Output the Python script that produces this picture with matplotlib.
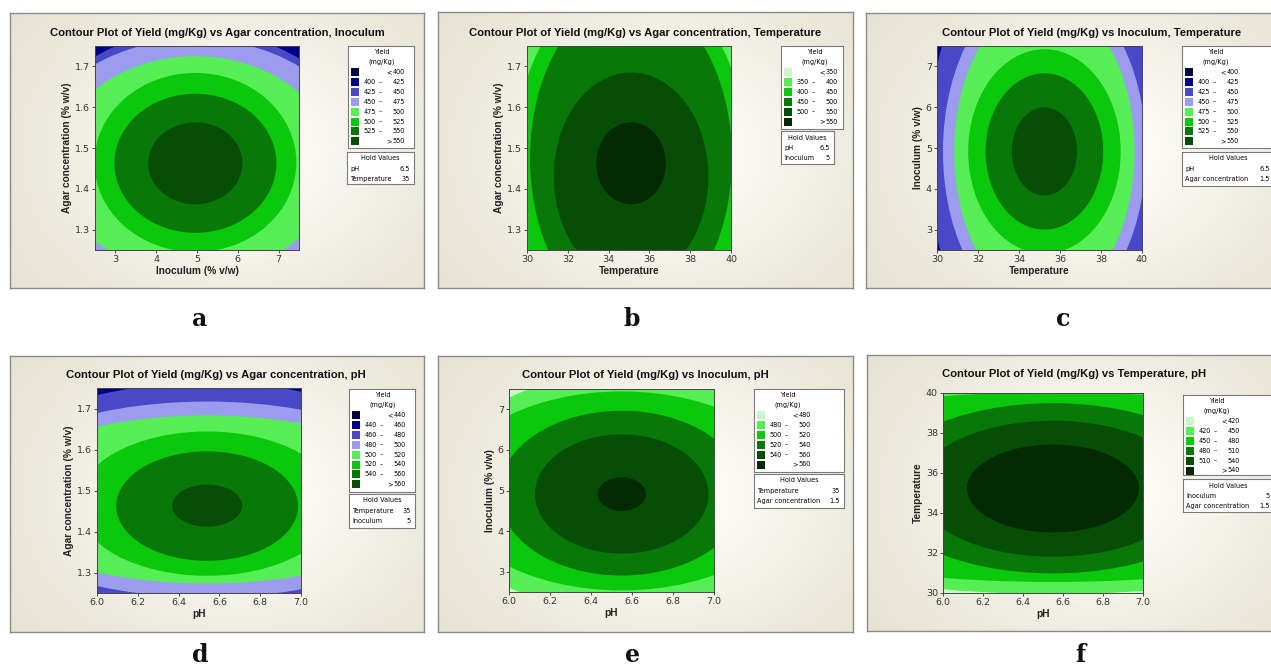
import numpy as np
import matplotlib
matplotlib.use("Agg")
import matplotlib.pyplot as plt
from matplotlib.patches import Ellipse, Rectangle
from matplotlib.colors import to_rgb
from matplotlib.ticker import FormatStrFormatter

OUTPUT_PATH = "out.png"
W, H = 1271, 667

plt.rcParams["font.family"] = "DejaVu Sans"

# ==========================================
# COLOURS (Minitab ramps)
# ==========================================
BLUE_GREEN = ["#07073f", "#000086", "#4848c8", "#9c9cee",
              "#55ee55", "#0cc80c", "#087808", "#064e06"]
GREENS = ["#c8f8c8", "#55ee55", "#0cc80c", "#087808", "#064e06", "#032a03"]

# ==========================================
# DATA - contour boundaries
# (one ellipse per level: centre x, centre y, half-widths)
# ==========================================
# a: Agar concentration vs Inoculum
A_LEVELS = [400, 425, 450, 475, 500, 525, 550]
A_CX = 4.96
A_CY = [1.4575, 1.4575, 1.4575, 1.4575, 1.4645, 1.4625, 1.4625]
A_RX = [4.50, 4.15, 4.08, 3.41, 2.475, 1.985, 1.155]
A_RY = [0.360, 0.331, 0.310, 0.2675, 0.2195, 0.1705, 0.1005]
A_HOLD = [("pH", "6.5"), ("Temperature", "35")]

# b: Agar concentration vs Temperature
B_LEVELS = [350, 400, 450, 500, 550]
B_CX = 35.1
B_CY = [1.45, 1.45, 1.475, 1.43, 1.4625]
B_RX = [6.5, 5.79, 4.95, 3.79, 1.71]
B_RY = [0.55, 0.466, 0.395, 0.255, 0.1005]
B_HOLD = [("pH", "6.5"), ("Inoculum", "5")]

# c: Inoculum vs Temperature
C_LEVELS = [400, 425, 450, 475, 500, 525, 550]
C_CX = 35.24
C_CY = [4.915, 4.915, 4.915, 4.915, 4.915, 4.915, 4.915]
C_RX = [6.0, 5.66, 4.95, 4.40, 3.72, 2.87, 1.59]
C_RY = [6.0, 5.51, 4.11, 3.69, 2.505, 1.915, 1.08]
C_HOLD = [("pH", "6.5"), ("Agar concentration", "1.5")]

# d: Agar concentration vs pH
D_LEVELS = [440, 460, 480, 500, 520, 540, 560]
D_CX = 6.54
D_CY = [1.478, 1.478, 1.478, 1.478, 1.468, 1.462, 1.463]
D_RX = [1.30, 1.20, 1.15, 1.085, 0.637, 0.446, 0.172]
D_RY = [0.300, 0.285, 0.239, 0.205, 0.176, 0.1335, 0.0514]
D_HOLD = [("Temperature", "35"), ("Inoculum", "5")]

# e: Inoculum vs pH
E_LEVELS = [480, 500, 520, 540, 560]
E_CX = 6.55
E_CY = [4.95, 4.99, 4.935, 4.915, 4.911]
E_RX = [0.90, 0.846, 0.600, 0.423, 0.118]
E_RY = [2.95, 2.45, 2.03, 1.468, 0.413]
E_HOLD = [("Temperature", "35"), ("Agar concentration", "1.5")]

# f: Temperature vs pH
F_LEVELS = [420, 450, 480, 510, 540]
F_CX = 6.55
F_CY = [35.4, 35.3, 35.235, 35.215, 35.225]
F_RX = [1.9, 1.9, 0.883, 0.683, 0.43]
F_RY = [5.45, 4.75, 4.255, 3.4, 2.2]
F_HOLD = [("Inoculum", "5"), ("Agar concentration", "1.5")]

INOC_TICKS = [3, 4, 5, 6, 7]
AGAR_TICKS = [1.3, 1.4, 1.5, 1.6, 1.7]
TEMP_TICKS = [30, 32, 34, 36, 38, 40]
PH_TICKS = [6.0, 6.2, 6.4, 6.6, 6.8, 7.0]

INOC_LABEL = "Inoculum (% v/w)"
AGAR_LABEL = "Agar concentration (% w/v)"

PANELS = [
    dict(tag="a", title="Contour Plot of Yield (mg/Kg) vs Agar concentration, Inoculum",
         levels=A_LEVELS, cx=A_CX, cy=A_CY, rx=A_RX, ry=A_RY, hold=A_HOLD, colors=BLUE_GREEN,
         xlim=(2.5, 7.5), ylim=(1.25, 1.75), xticks=INOC_TICKS, yticks=AGAR_TICKS,
         xfmt="%d", yfmt="%.1f", xlabel=INOC_LABEL, ylabel=AGAR_LABEL),
    dict(tag="b", title="Contour Plot of Yield (mg/Kg) vs Agar concentration, Temperature",
         levels=B_LEVELS, cx=B_CX, cy=B_CY, rx=B_RX, ry=B_RY, hold=B_HOLD, colors=GREENS,
         xlim=(30, 40), ylim=(1.25, 1.75), xticks=TEMP_TICKS, yticks=AGAR_TICKS,
         xfmt="%d", yfmt="%.1f", xlabel="Temperature", ylabel=AGAR_LABEL),
    dict(tag="c", title="Contour Plot of Yield (mg/Kg) vs Inoculum, Temperature",
         levels=C_LEVELS, cx=C_CX, cy=C_CY, rx=C_RX, ry=C_RY, hold=C_HOLD, colors=BLUE_GREEN,
         xlim=(30, 40), ylim=(2.5, 7.5), xticks=TEMP_TICKS, yticks=INOC_TICKS,
         xfmt="%d", yfmt="%d", xlabel="Temperature", ylabel=INOC_LABEL),
    dict(tag="d", title="Contour Plot of Yield (mg/Kg) vs Agar concentration, pH",
         levels=D_LEVELS, cx=D_CX, cy=D_CY, rx=D_RX, ry=D_RY, hold=D_HOLD, colors=BLUE_GREEN,
         xlim=(6.0, 7.0), ylim=(1.25, 1.75), xticks=PH_TICKS, yticks=AGAR_TICKS,
         xfmt="%.1f", yfmt="%.1f", xlabel="pH", ylabel=AGAR_LABEL),
    dict(tag="e", title="Contour Plot of Yield (mg/Kg) vs Inoculum, pH",
         levels=E_LEVELS, cx=E_CX, cy=E_CY, rx=E_RX, ry=E_RY, hold=E_HOLD, colors=GREENS,
         xlim=(6.0, 7.0), ylim=(2.5, 7.5), xticks=PH_TICKS, yticks=INOC_TICKS,
         xfmt="%.1f", yfmt="%d", xlabel="pH", ylabel=INOC_LABEL),
    dict(tag="f", title="Contour Plot of Yield (mg/Kg) vs Temperature, pH",
         levels=F_LEVELS, cx=F_CX, cy=F_CY, rx=F_RX, ry=F_RY, hold=F_HOLD, colors=GREENS,
         xlim=(6.0, 7.0), ylim=(30, 40), xticks=PH_TICKS, yticks=TEMP_TICKS,
         xfmt="%.1f", yfmt="%d", xlabel="pH", ylabel="Temperature"),
]

# ==========================================
# LAYOUT (pixel boxes: x0, y0, x1, y1 from top-left)
# ==========================================
LAYOUT = {
    "a": dict(frame=(10, 13, 424, 288), plot=(95, 46, 299, 250), legend=(348, 46, 414, 148),
              holdbox=(347, 152, 414, 184), title=(217, 33), letter=(200, 326)),
    "b": dict(frame=(438, 12, 853, 288), plot=(527, 46, 731, 250), legend=(781, 46, 843, 129),
              holdbox=(781, 131, 834, 164), title=(645, 33), letter=(632, 326)),
    "c": dict(frame=(866, 13, 1280, 288), plot=(937, 46, 1142, 250), legend=(1182, 46, 1276, 148),
              holdbox=(1182, 152, 1274, 186), title=(1092, 33), letter=(1063, 326)),
    "d": dict(frame=(10, 356, 424, 632), plot=(97, 388, 301, 593), legend=(349, 389, 415, 492),
              holdbox=(349, 494, 415, 528), title=(216, 375), letter=(200, 662)),
    "e": dict(frame=(438, 356, 853, 632), plot=(509, 389, 714, 592), legend=(754, 389, 844, 472),
              holdbox=(754, 474, 844, 508), title=(645, 375), letter=(633, 662)),
    "f": dict(frame=(867, 355, 1280, 631), plot=(943, 393, 1143, 593), legend=(1183, 395, 1276, 475),
              holdbox=(1183, 479, 1274, 512), title=(1074, 374), letter=(1080, 662)),
}

EDGE_RGB = np.array(to_rgb("#e3dfcd"))
GLOW_RGB = np.array(to_rgb("#fdfcf8"))
FS_LEG = 4.7

fig = plt.figure(figsize=(W / 100, H / 100), dpi=100)


def px_axes(box):
    x0, y0, x1, y1 = box
    return fig.add_axes([x0 / W, 1 - y1 / H, (x1 - x0) / W, (y1 - y0) / H])


def px_box_axes(box, face="white"):
    ax = px_axes(box)
    w, h = box[2] - box[0], box[3] - box[1]
    ax.set_xlim(0, w)
    ax.set_ylim(h, 0)
    ax.set_xticks([])
    ax.set_yticks([])
    ax.set_facecolor(face)
    for s in ax.spines.values():
        s.set_color("#7a7a7a")
        s.set_linewidth(0.8)
    return ax, w, h


def draw_frame(box):
    ax, w, h = px_box_axes(box)
    X, Y = np.meshgrid(np.linspace(0, w, 200), np.linspace(0, h, 130))
    r2 = ((X - 0.55 * w) / (0.62 * w)) ** 2 + ((Y - 0.5 * h) / (0.75 * h)) ** 2
    t = np.exp(-1.6 * r2)[..., None]
    img = EDGE_RGB * (1 - t) + GLOW_RGB * t
    ax.imshow(img, extent=[0, w, h, 0], aspect="auto", interpolation="bilinear")
    ax.set_xlim(0, w)
    ax.set_ylim(h, 0)
    for s in ax.spines.values():
        s.set_color("#8a8a8a")
        s.set_linewidth(1.0)


def draw_legend(box, levels, colors):
    ax, w, h = px_box_axes(box)
    ax.text(34, 6, "Yield", ha="center", va="center", fontsize=FS_LEG)
    ax.text(34, 16, "(mg/Kg)", ha="center", va="center", fontsize=FS_LEG)
    n = len(levels) + 1
    for k in range(n):
        y = 26 + 9.9 * k
        ax.add_patch(Rectangle((3, y - 4), 8, 8, facecolor=colors[k], edgecolor="none"))
        if k == 0:
            ax.text(44, y, "<", ha="right", va="center", fontsize=FS_LEG)
            ax.text(57, y, str(levels[0]), ha="right", va="center", fontsize=FS_LEG)
        elif k == n - 1:
            ax.text(44, y, ">", ha="right", va="center", fontsize=FS_LEG)
            ax.text(57, y, str(levels[-1]), ha="right", va="center", fontsize=FS_LEG)
        else:
            ax.text(28, y, str(levels[k - 1]), ha="right", va="center", fontsize=FS_LEG)
            ax.text(32, y, "\u2013", ha="center", va="center", fontsize=FS_LEG)
            ax.text(57, y, str(levels[k]), ha="right", va="center", fontsize=FS_LEG)


def draw_hold(box, items):
    ax, w, h = px_box_axes(box)
    ax.text(w / 2, 6.5, "Hold Values", ha="center", va="center", fontsize=FS_LEG)
    for j, (name, val) in enumerate(items):
        y = 17 + 10.3 * j
        ax.text(3, y, name, ha="left", va="center", fontsize=FS_LEG)
        ax.text(w - 4, y, val, ha="right", va="center", fontsize=FS_LEG)


for p in PANELS:
    lay = LAYOUT[p["tag"]]
    draw_frame(lay["frame"])

    ax = px_axes(lay["plot"])
    ax.set_facecolor(p["colors"][0])
    for i in range(len(p["levels"])):
        ax.add_patch(Ellipse((p["cx"], p["cy"][i]), 2 * p["rx"][i], 2 * p["ry"][i],
                             facecolor=p["colors"][i + 1], edgecolor="none"))
    ax.set_xlim(*p["xlim"])
    ax.set_ylim(*p["ylim"])
    ax.set_xticks(p["xticks"])
    ax.set_yticks(p["yticks"])
    ax.xaxis.set_major_formatter(FormatStrFormatter(p["xfmt"]))
    ax.yaxis.set_major_formatter(FormatStrFormatter(p["yfmt"]))
    ax.tick_params(direction="out", length=2.2, width=0.6, pad=1.5,
                   labelsize=6.8, colors="#333333")
    for s in ax.spines.values():
        s.set_color("#444444")
        s.set_linewidth(0.7)
    ax.set_xlabel(p["xlabel"], fontsize=7.3, fontweight="bold", family="Liberation Sans",
                  labelpad=1.5, color="#222222")
    ax.set_ylabel(p["ylabel"], fontsize=7.3, fontweight="bold", family="Liberation Sans",
                  labelpad=2, color="#222222")

    tx, ty = lay["title"]
    fig.text(tx / W, 1 - ty / H, p["title"], ha="center", va="center",
             fontsize=8.1, fontweight="bold", family="Liberation Sans", color="#111111")

    draw_legend(lay["legend"], p["levels"], p["colors"])
    draw_hold(lay["holdbox"], p["hold"])

    lx, ly = lay["letter"]
    fig.text(lx / W, 1 - ly / H, p["tag"], ha="center", va="baseline",
             fontsize=17, fontweight="bold", family="DejaVu Serif", color="#111111")

fig.savefig(OUTPUT_PATH, dpi=100)
plt.close(fig)
print(f"Saved: {OUTPUT_PATH}")
